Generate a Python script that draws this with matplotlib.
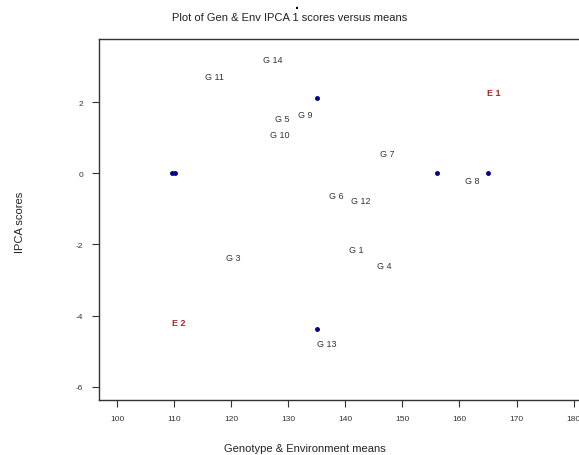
import matplotlib.pyplot as plt

# genotype labels: (mean, IPCA1 score)
gen_names = ["G1", "G3", "G4", "G5", "G6", "G7", "G8", "G9", "G10",
             "G11", "G12", "G13", "G14"]
gen_means = [142.0, 120.3, 146.8, 128.9, 138.5, 147.3, 162.3, 133.0, 128.5,
             117.0, 142.7, 136.8, 127.3]
gen_scores = [-2.13, -2.36, -2.58, 1.55, -0.62, 0.56, -0.2, 1.66, 1.1,
              2.72, -0.76, -4.78, 3.2]

# environment labels
env_names = ["E1", "E2"]
env_means = [166.0, 110.9]
env_scores = [2.28, -4.2]

# plotted points
pt_means = [109.7, 110.2, 135.0, 156.0, 165.0, 135.0]
pt_scores = [0.0, 0.0, 2.1, 0.0, 0.0, -4.38]

plt.rcParams["font.family"] = ["Liberation Sans", "DejaVu Sans"]
plt.rcParams["axes.unicode_minus"] = False

fig = plt.figure(figsize=(5.79, 4.56), dpi=100)
ax = fig.add_axes([0.1706, 0.1206, 0.8398, 0.7917])

ax.plot(pt_means, pt_scores, "o", color="#00008b", markersize=2.5, ls="none")
for n, x, y in zip(gen_names, gen_means, gen_scores):
    ax.text(x, y, n.replace("G", "G "), fontsize=6.5, color="#333333",
            ha="center", va="center")
for n, x, y in zip(env_names, env_means, env_scores):
    ax.text(x, y, n.replace("E", "E "), fontsize=6.5, color="#a52a2a",
            ha="center", va="center", fontweight="bold")

ax.set_xlim(96.8, 182.0)
ax.set_ylim(-6.37, 3.77)
ax.set_xticks(range(100, 190, 10))
ax.set_yticks([-6, -4, -2, 0, 2])
ax.tick_params(labelsize=6, length=5, width=0.8, color="#333333",
               labelcolor="#333333", pad=6)
ax.spines["right"].set_visible(False)
for s in ["left", "bottom", "top"]:
    ax.spines[s].set_linewidth(1.0)
    ax.spines[s].set_color("#333333")

fig.text(0.5, 0.96, "Plot of Gen & Env IPCA 1 scores versus means",
         fontsize=8, ha="center", va="center", color="#222222")
fig.text(0.513, 0.99, ".", fontsize=10, fontweight="bold", ha="center",
         va="center", color="black")
fig.text(0.527, 0.015, "Genotype & Environment means", fontsize=8,
         ha="center", va="center", color="#222222")
fig.text(0.035, 0.513, "IPCA scores", fontsize=8, rotation=90,
         ha="center", va="center", color="#222222")

fig.savefig("out.png", dpi=100)
